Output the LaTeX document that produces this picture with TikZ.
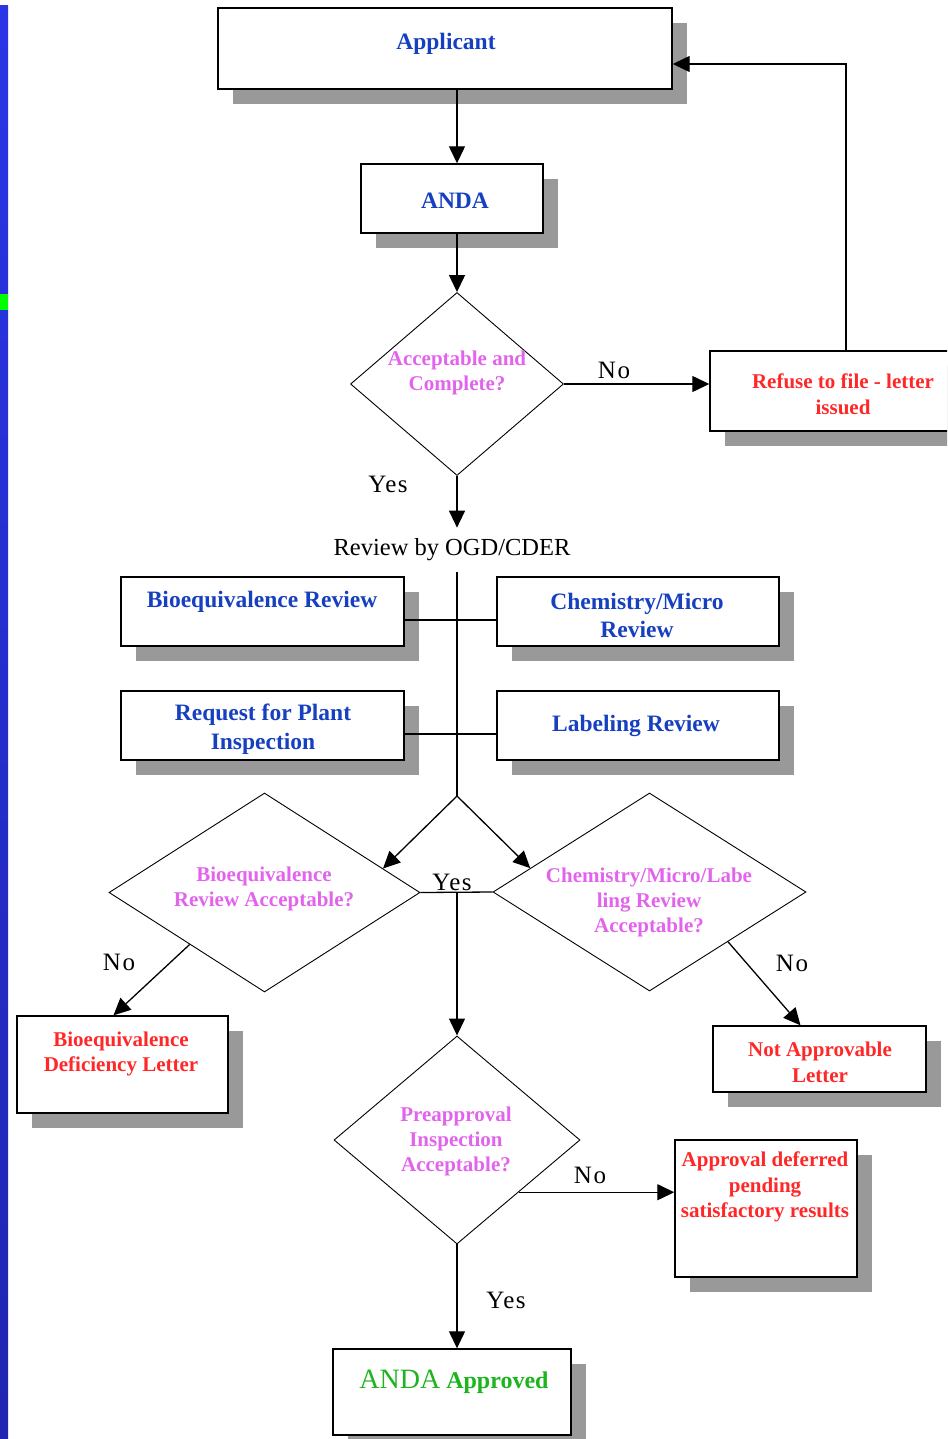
\documentclass[tikz,border=0pt]{standalone}
\usepackage{fontspec}
\setmainfont{Liberation Serif}
\newfontfamily\lblfont[LetterSpace=6]{Liberation Serif}
\usetikzlibrary{shapes.geometric,arrows.meta,shadows,calc}
\definecolor{bluetxt}{RGB}{22,64,192}
\definecolor{magtxt}{RGB}{226,100,236}
\definecolor{redtxt}{RGB}{255,40,40}
\definecolor{greentxt}{RGB}{30,180,30}
\definecolor{shadowgray}{RGB}{153,153,153}
\definecolor{stripblue}{RGB}{42,53,230}
\definecolor{stripdark}{RGB}{32,38,176}
\definecolor{stripgreen}{RGB}{0,255,0}
\tikzset{
 box/.style={draw=black, line width=1.4pt, fill=white, inner sep=0pt,
   general shadow={fill=shadowgray, shadow xshift=15pt, shadow yshift=-15pt}},
 dia/.style={draw=black, line width=0.9pt, shape=diamond, inner sep=0pt},
 arr/.style={line width=1.3pt, -{Triangle[length=17pt,width=16pt]}},
 conn/.style={line width=1.3pt},
 bluet/.style={text=bluetxt, font=\bfseries\fontsize{23.5}{29}\selectfont, align=center, inner sep=0pt},
 redt/.style={text=redtxt, font=\bfseries\fontsize{21}{25.5}\selectfont, align=center, inner sep=0pt},
 magt/.style={text=magtxt, font=\bfseries\fontsize{21}{25}\selectfont, align=center, inner sep=0pt},
 lbl/.style={font=\lblfont\fontsize{25}{30}\selectfont, inner sep=0pt},
}
\begin{document}
\begin{tikzpicture}[x=1pt,y=-1pt]
\useasboundingbox (0,0) rectangle (947,1439);
\clip (0,0) rectangle (947,1439);
% left strip
\shade[top color=stripblue, bottom color=stripdark] (0,6) rectangle (8,1439);
\fill[stripgreen] (0,294) rectangle (8,310);

% boxes
\node[box, minimum width=454pt, minimum height=81pt] (applicant) at (445,48.5) {};
\node[bluet] (applicant-t) at (446,44) {Applicant};
\node[box, minimum width=182pt, minimum height=69pt] (anda) at (452,198.5) {};
\node[bluet] (anda-t) at (455,201) {ANDA};
\node[box, minimum width=272pt, minimum height=80pt] (refuse) at (846,391) {};
\node[redt] (refuse-t) at (843,394) {Refuse to file - letter\\issued};

\node[box, minimum width=283pt, minimum height=69pt] (biorev) at (262.5,611.5) {};
\node[bluet] (biorev-t) at (262,602) {Bioequivalence Review};
\node[box, minimum width=282pt, minimum height=69pt] (chemrev) at (638,611.5) {};
\node[bluet, font=\bfseries\fontsize{23.5}{28}\selectfont] (chemrev-t) at (637,615) {Chemistry/Micro\\Review};
\node[box, minimum width=283pt, minimum height=69pt] (request) at (262.5,725.5) {};
\node[bluet] (request-t) at (263,729) {Request for Plant\\Inspection};
\node[box, minimum width=282pt, minimum height=69pt] (labeling) at (638,725.5) {};
\node[bluet] (labeling-t) at (636,726) {Labeling Review};

\node[box, minimum width=211pt, minimum height=97pt] (bdef) at (122.5,1064.5) {};
\node[redt] (bdef-t) at (121,1054) {Bioequivalence\\Deficiency Letter};
\node[box, minimum width=213pt, minimum height=66pt] (napp) at (819.5,1059) {};
\node[redt] (napp-t) at (820,1062.5) {Not Approvable\\Letter};
\node[box, minimum width=182pt, minimum height=137pt] (adef) at (766,1208.5) {};
\node[redt] (adef-t) at (765,1187) {Approval deferred\\pending\\satisfactory results};
\node[box, minimum width=238pt, minimum height=86pt] (approved) at (452,1392) {};
\node[text=greentxt, inner sep=0pt] (approved-t) at (454,1382)
  {{\fontsize{28}{32}\selectfont ANDA}\hspace{6pt}{\bfseries\fontsize{24}{30}\selectfont Approved}};

% diamonds
\node[dia, minimum width=213pt, minimum height=183pt] (d1) at (457,384) {};
\node[magt] (d1-t) at (457,373) {Acceptable and\\Complete?};
\node[dia, minimum width=311pt, minimum height=199pt] (bdia) at (264.5,892.5) {};
\node[magt] (bdia-t) at (264,889) {Bioequivalence\\Review Acceptable?};
\node[dia, minimum width=313pt, minimum height=198pt] (cdia) at (649.5,892) {};
\node[magt] (cdia-t) at (649,902) {Chemistry/Micro/Labe\\ling Review\\Acceptable?};
\node[dia, minimum width=246pt, minimum height=208pt] (pdia) at (457,1140) {};
\node[magt] (pdia-t) at (456,1141) {Preapproval\\Inspection\\Acceptable?};

% review title
\node[font=\fontsize{24.5}{29}\selectfont, inner xsep=0pt, inner ysep=11pt] (review) at (452,550) {Review by OGD/CDER};

% labels
\node[lbl] (no1) at (614,370) {No};
\node[lbl] (yes1) at (388,484) {Yes};
\node[lbl] (yes2) at (452,882) {Yes};
\node[lbl] (no2) at (119,962) {No};
\node[lbl] (no3) at (792,963) {No};
\node[lbl] (no4) at (590,1175) {No};
\node[lbl] (yes3) at (506,1300) {Yes};

% helper coordinates
\coordinate (split) at (457,796);
\coordinate (mid) at ($(bdia.east)!0.5!(cdia.west)$);
\coordinate (bin) at ($(bdia.north)!0.76!(bdia.east)$);
\coordinate (cin) at ($(cdia.north)!0.76!(cdia.west)$);
\coordinate (bout) at ($(bdia.west)!0.52!(bdia.south)$);
\coordinate (cout) at ($(cdia.south)!0.5!(cdia.east)$);
\coordinate (pout) at ($(pdia.south)!0.5!(pdia.east)$);

% connectors
\draw[arr] (d1.north |- applicant.south) -- (d1.north |- anda.north);
\draw[arr] (d1.north |- anda.south) -- (d1.north);
\draw[arr] (d1.east) -- (d1.east -| refuse.west);
\draw[arr] (refuse.north) |- ([yshift=-15.5pt]applicant.east);
\draw[arr] (d1.south) -- (d1.south |- review.north);
\draw[conn] (d1.south |- review.south) -- (split);
\draw[conn] ([yshift=-8.5pt]biorev.east) -- ([yshift=-8.5pt]chemrev.west);
\draw[conn] ([yshift=-8.5pt]request.east) -- ([yshift=-8.5pt]labeling.west);
\draw[arr] (split) -- (bin);
\draw[arr] (split) -- (cin);
\draw[conn] (bdia.east) -- (cdia.west);
\draw[arr] (pdia.north |- mid) -- (pdia.north);
\draw[arr] (bout) -- ([xshift=-9pt]bdef.north);
\draw[arr] (cout) -- ([xshift=-19pt]napp.north);
\draw[arr] (pout) -- (pout -| adef.west);
\draw[arr] (pdia.south) -- (pdia.south |- approved.north);
\end{tikzpicture}
\end{document}
